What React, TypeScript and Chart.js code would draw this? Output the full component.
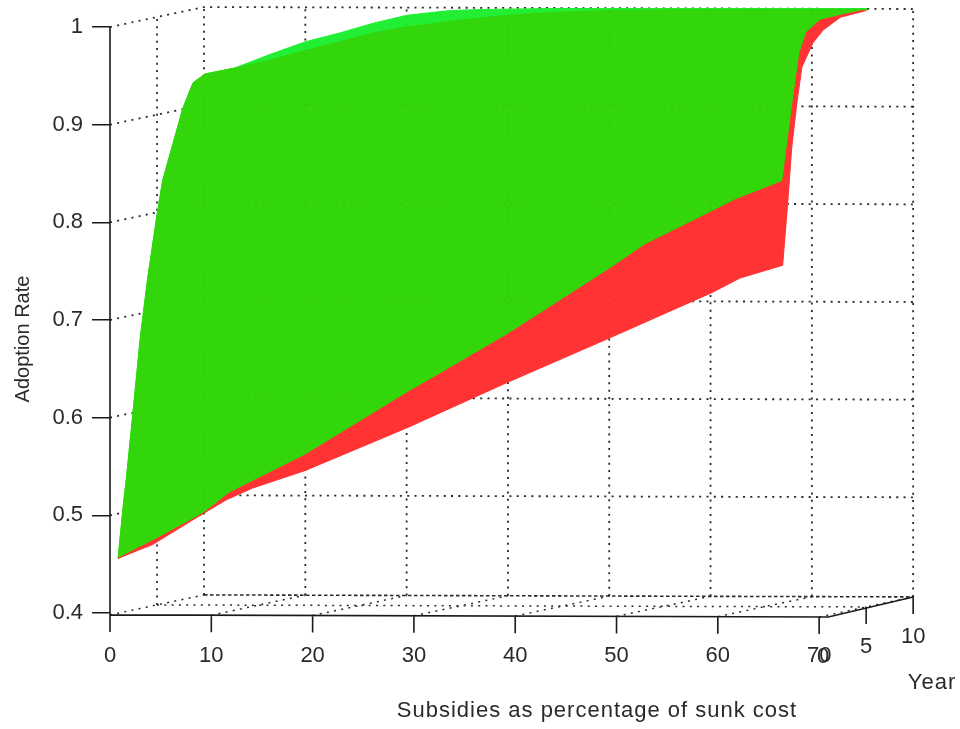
import React, { useEffect, useRef } from "react";
import { Chart, registerables } from "chart.js";

Chart.register(...registerables);

// Axis ticks
const subsidyTicks = [0, 10, 20, 30, 40, 50, 60, 70];
const rateTicks = [0.4, 0.5, 0.6, 0.7, 0.8, 0.9, 1];
const wallRates = [0.5, 0.6, 0.7, 0.8, 0.9, 1];
const yearTicks = [0, 5, 10];
const FLOOR_RATE = 0.398;

// Surface outlines: [projected subsidy, adoption rate]
const leftEdge: number[][] = [
  [0.8, 0.456], [1.3, 0.509], [1.6, 0.536], [2.2, 0.598], [3.0, 0.683], [3.7, 0.741],
  [4.6, 0.805], [5.2, 0.843], [7.2, 0.917], [8.2, 0.943], [9.4, 0.952], [12.3, 0.958],
];
const brightTop: number[][] = [
  [15.8, 0.972], [19.3, 0.985], [22.7, 0.994], [26.0, 1.004], [29.3, 1.012], [33.6, 1.017],
  [36.8, 1.018], [43.7, 1.019], [65.2, 1.019], [74.7, 1.019],
];
const darkTop: number[][] = [
  [15.8, 0.966], [19.3, 0.976], [22.7, 0.985], [26.0, 0.994], [29.3, 1.0], [33.6, 1.006],
  [39.2, 1.012], [43.7, 1.015], [49.1, 1.017], [58.2, 1.018], [74.7, 1.018],
];
const greenRedBoundary: number[][] = [
  [74.3, 1.017], [72.1, 1.012], [70.1, 1.007], [68.8, 0.995], [68.1, 0.974], [67.4, 0.922],
  [66.4, 0.842], [61.7, 0.823], [59.4, 0.811], [52.8, 0.777], [49.4, 0.753], [39.2, 0.685],
  [31.6, 0.639], [29.4, 0.626], [19.3, 0.562], [11.8, 0.523], [9.2, 0.502], [4.6, 0.476], [0.8, 0.456],
];
const redOuter: number[][] = [
  [74.7, 1.017], [72.1, 1.01], [70.4, 0.997], [69.4, 0.984], [68.3, 0.959], [67.8, 0.922],
  [67.3, 0.877], [66.9, 0.82], [66.4, 0.756], [62.2, 0.743], [59.4, 0.728], [49.4, 0.682],
  [39.2, 0.636], [29.4, 0.59], [19.3, 0.546], [14.1, 0.528], [11.5, 0.516], [8.6, 0.498],
  [4.2, 0.47], [0.8, 0.456],
];

// Oblique projection of the 3-D box on to the front axes
const project = (s: number, year: number, rate: number) => ({
  x: s + year * 0.928,
  y: rate + year * 0.00205 - s * 0.0000293,
});
const GAP = { x: NaN, y: NaN };
const toPts = (rows: number[][]) => rows.map(([x, y]) => ({ x, y }));
const polyline = (lines: { x: number; y: number }[][]) =>
  lines.flatMap((l) => [...l, GAP]).slice(0, -1);

const wallLines = polyline([
  ...wallRates.map((r) => [project(0, 0, r), project(0, 10, r), project(70, 10, r)]),
  ...subsidyTicks.map((s) => [project(s, 10, FLOOR_RATE), project(s, 10, 1)]),
  [project(0, 5, FLOOR_RATE), project(0, 5, 1)],
]);
const backWallLines = polyline([
  ...wallRates.map((r) => [project(0, 10, r), project(70, 10, r)]),
  ...subsidyTicks.map((s) => [project(s, 10, FLOOR_RATE), project(s, 10, 1)]),
]);
const floorLines = polyline([
  ...subsidyTicks.map((s) => [project(s, 0, FLOOR_RATE), project(s, 10, FLOOR_RATE)]),
  [project(0, 5, FLOOR_RATE), project(70, 5, FLOOR_RATE)],
]);
const floorBack = [project(0, 10, FLOOR_RATE), project(70, 10, FLOOR_RATE)];
const axisLines = polyline([
  [project(0, 0, 1), project(0, 0, FLOOR_RATE), project(70.9, 0, FLOOR_RATE), project(70, 10, FLOOR_RATE)],
  ...subsidyTicks.map((s) => [project(s, 0, FLOOR_RATE), project(s, 0, FLOOR_RATE - 0.0175)]),
  ...yearTicks.slice(1).map((y) => [project(70, y, FLOOR_RATE), project(70, y, FLOOR_RATE - 0.0175)]),
]);

const INK = "#2a2a2a";
const FONT = "Liberation Sans";
const SIZE = 22;

const lineDs = (data: any[], color: string, width: number, dash: number[], order: number) => ({
  data, borderColor: color, borderWidth: width, borderDash: dash, pointRadius: 0,
  showLine: true, fill: false, spanGaps: false, tension: 0, clip: false, order,
});
const areaDs = (rows: number[][], color: string, order: number) => ({
  data: toPts(rows), borderColor: color, borderWidth: 1, backgroundColor: color, pointRadius: 0,
  showLine: true, fill: "shape", tension: 0, clip: false, order,
});

const textPlugin = {
  id: "boxLabels",
  afterDraw(chart: any) {
    const { ctx, scales } = chart;
    const put = (t: string, x: number, y: number, size = SIZE, spacing = 0, rot = 0) => {
      ctx.save();
      ctx.translate(x, y);
      ctx.rotate(rot);
      ctx.font = `${size}px "${FONT}"`;
      ctx.letterSpacing = `${spacing}px`;
      ctx.fillStyle = INK;
      ctx.textAlign = "center";
      ctx.textBaseline = "middle";
      ctx.fillText(t, 0, 0);
      ctx.restore();
    };
    put("Adoption Rate", 23, 339, 20, 0, -Math.PI / 2);
    put("Subsidies as percentage of sunk cost", 597, 711, 22, 1);
    put("Year", 932, 683, 22, 1);
    yearTicks.forEach((y) => {
      const p = project(70, y, FLOOR_RATE);
      const px = scales.x.getPixelForValue(p.x);
      const py = scales.y.getPixelForValue(p.y);
      put(String(y), px + (y === 0 ? 4 : 0), py + 40);
    });
  },
};

export default function App() {
  const ref = useRef<HTMLCanvasElement>(null);
  useEffect(() => {
    const chart = new Chart(ref.current as HTMLCanvasElement, {
      type: "scatter",
      data: {
        datasets: [
          lineDs(wallLines, INK, 1.8, [2, 5.3], 8),
          lineDs(floorLines, INK, 1.5, [2, 5.3], 7),
          lineDs(floorBack, INK, 1.6, [3.5, 2.5], 6),
          areaDs([...leftEdge, ...brightTop, ...greenRedBoundary], "#22ee33", 5),
          areaDs([...leftEdge, ...darkTop, ...greenRedBoundary], "#33d60a", 4),
          areaDs([...redOuter, ...[...greenRedBoundary].reverse()], "#ff3333", 3),
          lineDs(backWallLines, "rgba(0,0,0,0.05)", 1.8, [2, 5.3], 2),
          lineDs(axisLines, "#1a1a1a", 1.6, [], 1),
        ] as any,
      },
      options: {
        responsive: false,
        animation: false,
        layout: { padding: { top: 4, right: 43, left: 0, bottom: 0 } },
        plugins: { legend: { display: false }, tooltip: { enabled: false } },
        scales: {
          x: {
            type: "linear",
            min: 0,
            max: 79.66,
            afterBuildTicks: (s: any) => { s.ticks = subsidyTicks.map((value) => ({ value })); },
            afterFit: (s: any) => { s.height = 96.5; s.paddingLeft = 0; s.paddingRight = 0; },
            grid: { display: false },
            border: { display: false },
            ticks: { autoSkip: false, maxRotation: 0, padding: 2, color: INK, font: { family: FONT, size: SIZE } },
          },
          y: {
            type: "linear",
            min: 0.38,
            max: 1.0236,
            afterBuildTicks: (s: any) => { s.ticks = rateTicks.map((value) => ({ value })); },
            afterFit: (s: any) => { s.width = 110; s.paddingTop = 0; s.paddingBottom = 0; },
            grid: { drawOnChartArea: false, drawTicks: true, tickLength: 18, color: "#1a1a1a", lineWidth: 1.5 },
            border: { display: false },
            ticks: { padding: 9, color: INK, font: { family: FONT, size: SIZE }, callback: (v: any) => String(Math.round(v * 10) / 10) },
          },
        },
      } as any,
      plugins: [textPlugin],
    });
    return () => chart.destroy();
  }, []);
  return (
    <canvas
      ref={ref}
      width={960}
      height={729}
      style={{ position: "absolute", left: 0, top: 0, width: 960, height: 729 }}
    />
  );
}
